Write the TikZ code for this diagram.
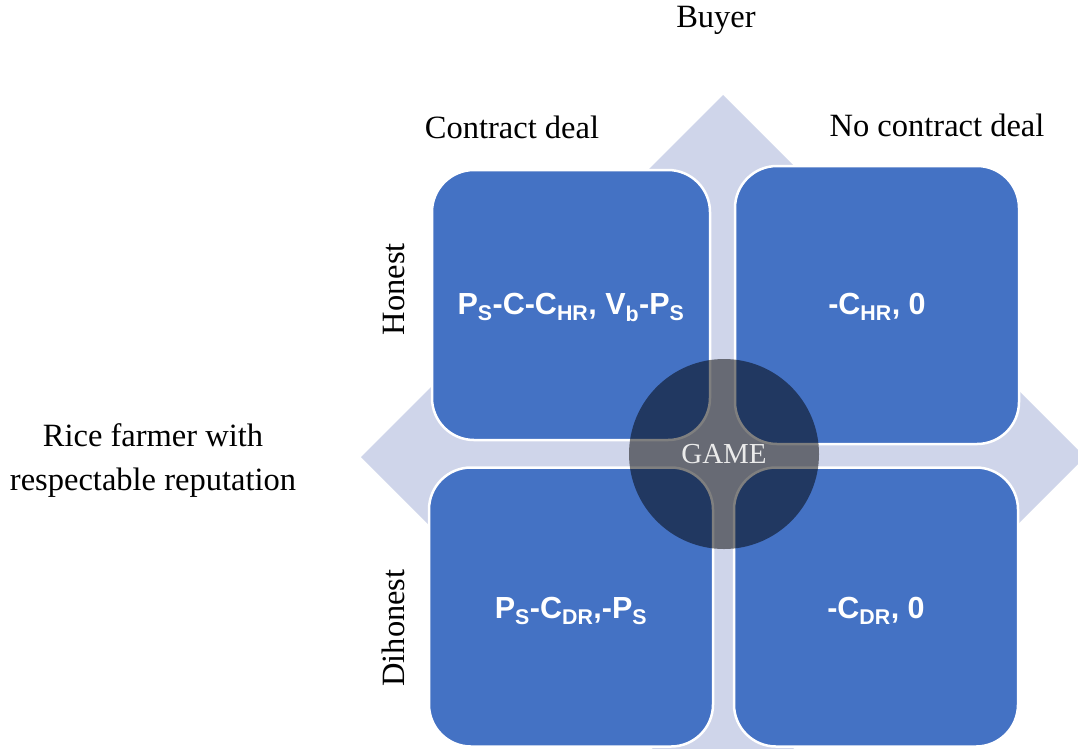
\documentclass[tikz,border=0pt]{standalone}
\usepackage{fontspec}
\setmainfont{Liberation Serif}
\newfontfamily\boxfont{Liberation Sans}
\definecolor{diam}{RGB}{207,213,234}
\definecolor{sqblue}{RGB}{68,114,196}
\tikzset{
  sq/.style={rectangle, rounded corners=42pt, fill=sqblue, draw=white, line width=2.5pt,
    text=white, font=\boxfont\bfseries\fontsize{30.5}{34}\selectfont, inner sep=0pt},
  lbl/.style={font=\fontsize{32.5}{38}\selectfont, text=black, inner sep=0pt},
}
\begin{document}
\begin{tikzpicture}[x=1pt,y=-1pt]
\useasboundingbox (0,0) rectangle (1078,748);
\clip (0,0) rectangle (1078,748);
\fill[white] (0,0) rectangle (1078,748);
% background diamond
\fill[diam] (723,95) -- (1085,457) -- (723,819) -- (361,457) -- cycle;
% squares
\node[sq, minimum width=278pt, minimum height=270pt] (tl) at (571,305)
  {\raisebox{-2pt}[\height][\depth]{P\textsubscript{S}-C-C\textsubscript{HR}, V\textsubscript{b}-P\textsubscript{S}}};
\node[sq, minimum width=284pt, minimum height=278pt] (tr) at (877,305)
  {\raisebox{-2pt}[\height][\depth]{-C\textsubscript{HR}, 0}};
\node[sq, minimum width=284pt, minimum height=279pt] (bl) at (571,607)
  {\raisebox{-4pt}[\height][\depth]{P\textsubscript{S}-C\textsubscript{DR},-P\textsubscript{S}}};
\node[sq, minimum width=284pt, minimum height=279pt] (br) at (876,607)
  {\raisebox{-4pt}[\height][\depth]{-C\textsubscript{DR}, 0}};
% centre circle
\node[circle, minimum size=190pt, inner sep=0pt, fill=black, fill opacity=0.5,
  text opacity=1, text=white!92!black, font=\fontsize{29}{33}\selectfont] (game) at (724,454) {GAME};
% labels
\node[lbl] (buyer) at (716,20) {Buyer};
\node[lbl] (cd) at (512,127) {Contract deal};
\node[lbl] (ncd) at (937,125) {No contract deal};
\node[lbl, rotate=90] (hon) at (394,289) {Honest};
\node[lbl, rotate=90] (dis) at (393,628) {Dihonest};
\node[lbl, align=center, font=\fontsize{32.5}{44}\selectfont] (farmer) at (153,461)
  {Rice farmer with\\respectable reputation};
\end{tikzpicture}
\end{document}
